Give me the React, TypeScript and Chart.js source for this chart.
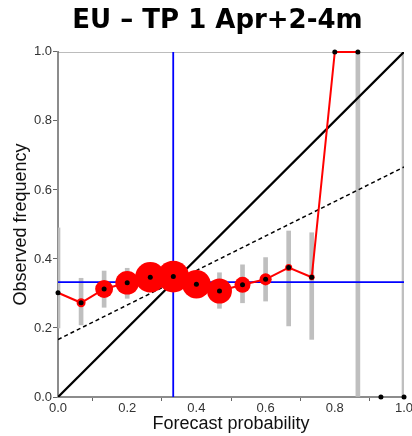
import React, { useEffect, useRef } from "react";
import { Chart, registerables } from "chart.js";

Chart.register(...registerables);

const TITLE = "EU – TP 1 Apr+2-4m";
const X_LABEL = "Forecast probability";
const Y_LABEL = "Observed frequency";

// forecast probability bins (15-member ensemble)
const forecastProb = [0, 0.0667, 0.1333, 0.2, 0.2667, 0.3333, 0.4, 0.4667, 0.5333, 0.6, 0.6667, 0.7333, 0.8, 0.8667, 0.9333, 1.0];
// observed relative frequency per bin
const obsFreq = [0.302, 0.273, 0.313, 0.331, 0.347, 0.349, 0.327, 0.307, 0.325, 0.341, 0.375, 0.347, 1.0, 1.0, 0.0, 0.0];
// relative sample size per bin (drives the red circle size)
const binWeight = [0, 0.28, 0.56, 0.74, 0.95, 0.99, 0.89, 0.78, 0.5, 0.38, 0.22, 0.18, 0, 0, 0, 0];
// bins joined by the red reliability curve
const connectedBins = 14;
// uncertainty range per bin (null = none)
const ciLow = [0.2, 0.209, 0.26, 0.286, 0.325, 0.33, 0.305, 0.257, 0.273, 0.278, 0.206, 0.167, null, 0.0, null, 0.0];
const ciHigh = [0.49, 0.344, 0.365, 0.373, 0.37, 0.37, 0.35, 0.36, 0.383, 0.404, 0.481, 0.476, null, 1.0, null, 1.0];
// climatological frequency
const climatology = 0.333;
const axisTicks = [0, 0.2, 0.4, 0.6, 0.8, 1.0];

const SANS = '"Liberation Sans", Arial, Helvetica, sans-serif';

export default function App() {
  const ref = useRef<HTMLCanvasElement>(null);

  useEffect(() => {
    const canvas = ref.current;
    if (!canvas) return;

    const redData = forecastProb.slice(0, connectedBins).map((x, i) => ({ x, y: obsFreq[i] }));
    const redRadius = binWeight.slice(0, connectedBins).map((w) => w * 16);
    const dotData = forecastProb.map((x, i) => ({ x, y: obsFreq[i] }));
    const ciData: any[] = [];
    forecastProb.forEach((x, i) => {
      if (ciLow[i] !== null && ciHigh[i] !== null) ciData.push({ x, y: [ciLow[i], ciHigh[i]] });
    });
    const xMin = axisTicks[0];
    const xMax = axisTicks[axisTicks.length - 1];
    const noSkill = [
      { x: xMin, y: (xMin + climatology) / 2 },
      { x: xMax, y: (xMax + climatology) / 2 },
    ];

    const chart = new Chart(canvas, {
      type: "line",
      data: {
        datasets: [
          {
            label: "dots",
            data: dotData,
            showLine: false,
            pointRadius: 2.5,
            pointBackgroundColor: "#000",
            pointBorderWidth: 0,
            borderColor: "#000",
            clip: false,
            order: 0,
          } as any,
          {
            label: "reliability",
            data: redData,
            borderColor: "#ff0000",
            borderWidth: 2,
            pointRadius: redRadius,
            pointBackgroundColor: "#ff0000",
            pointBorderColor: "#ff0000",
            pointBorderWidth: 0,
            tension: 0,
            fill: false,
            clip: false,
            order: 1,
          } as any,
          {
            label: "diagonal",
            data: [
              { x: xMin, y: xMin },
              { x: xMax, y: xMax },
            ],
            borderColor: "#000",
            borderWidth: 2.3,
            pointRadius: 0,
            fill: false,
            order: 2,
          } as any,
          {
            label: "no skill",
            data: noSkill,
            borderColor: "#000",
            borderWidth: 1.5,
            borderDash: [4, 3],
            pointRadius: 0,
            fill: false,
            order: 3,
          } as any,
          {
            label: "clim h",
            data: [
              { x: xMin, y: climatology },
              { x: xMax, y: climatology },
            ],
            borderColor: "#0000ff",
            borderWidth: 1.8,
            pointRadius: 0,
            fill: false,
            order: 4,
          } as any,
          {
            label: "clim v",
            data: [
              { x: climatology, y: xMin },
              { x: climatology, y: xMax },
            ],
            borderColor: "#0000ff",
            borderWidth: 1.8,
            pointRadius: 0,
            fill: false,
            order: 4,
          } as any,
          {
            type: "bar",
            label: "range",
            data: ciData,
            backgroundColor: "#bfbfbf",
            borderWidth: 0,
            barThickness: 4,
            grouped: false,
            clip: 0,
            order: 5,
          } as any,
          {
            label: "top",
            data: [
              { x: xMin, y: xMax },
              { x: xMax, y: xMax },
            ],
            borderColor: "#555",
            borderWidth: 1,
            pointRadius: 0,
            fill: false,
            order: 6,
          } as any,
        ],
      },
      options: {
        responsive: false,
        animation: false,
        devicePixelRatio: 1,
        layout: { padding: { left: 31, right: 8, top: 6, bottom: 0 } },
        plugins: {
          legend: { display: false },
          tooltip: { enabled: false },
          title: {
            display: true,
            text: TITLE,
            color: "#000",
            font: { family: '"DejaVu Sans", Verdana, sans-serif', size: 26, weight: "bold", lineHeight: 1.15 },
            padding: { top: 0, bottom: 16 },
          },
        },
        scales: {
          x: {
            type: "linear",
            min: xMin,
            max: xMax,
            offset: false,
            ticks: {
              stepSize: 0.2,
              autoSkip: false,
              maxRotation: 0,
              padding: 0,
              color: "#333",
              font: { family: SANS, size: 13 },
              callback: (v: any) => Number(v).toFixed(1),
            },
            grid: { drawOnChartArea: false, drawTicks: true, tickLength: 4, color: "#666" },
            border: { display: true, color: "#8c8c8c", width: 2 },
            title: {
              display: true,
              text: X_LABEL,
              color: "#111",
              font: { family: SANS, size: 18, lineHeight: 1.2 },
              padding: { top: 0, bottom: 1 },
            },
            afterFit: (s: any) => {
              s.height = 39;
              s.paddingRight = 0;
              s.paddingLeft = 0;
            },
          } as any,
          y: {
            type: "linear",
            min: xMin,
            max: xMax,
            ticks: {
              stepSize: 0.2,
              padding: 1,
              color: "#333",
              font: { family: SANS, size: 13 },
              callback: (v: any) => Number(v).toFixed(1),
            },
            grid: { drawOnChartArea: false, drawTicks: true, tickLength: 5, color: "#666" },
            border: { display: true, color: "#8c8c8c", width: 2 },
            title: {
              display: true,
              text: Y_LABEL,
              color: "#111",
              font: { family: SANS, size: 18, lineHeight: 1.2 },
              padding: { top: -20.3, bottom: 0 },
            },
            afterFit: (s: any) => {
              s.width = 27;
            },
          } as any,
        },
      },
    });

    return () => chart.destroy();
  }, []);

  return (
    <div style={{ position: "fixed", left: 0, top: 0, width: 412, height: 436, background: "#fff" }}>
      <canvas ref={ref} width={412} height={436} style={{ display: "block", width: 412, height: 436 }} />
    </div>
  );
}
